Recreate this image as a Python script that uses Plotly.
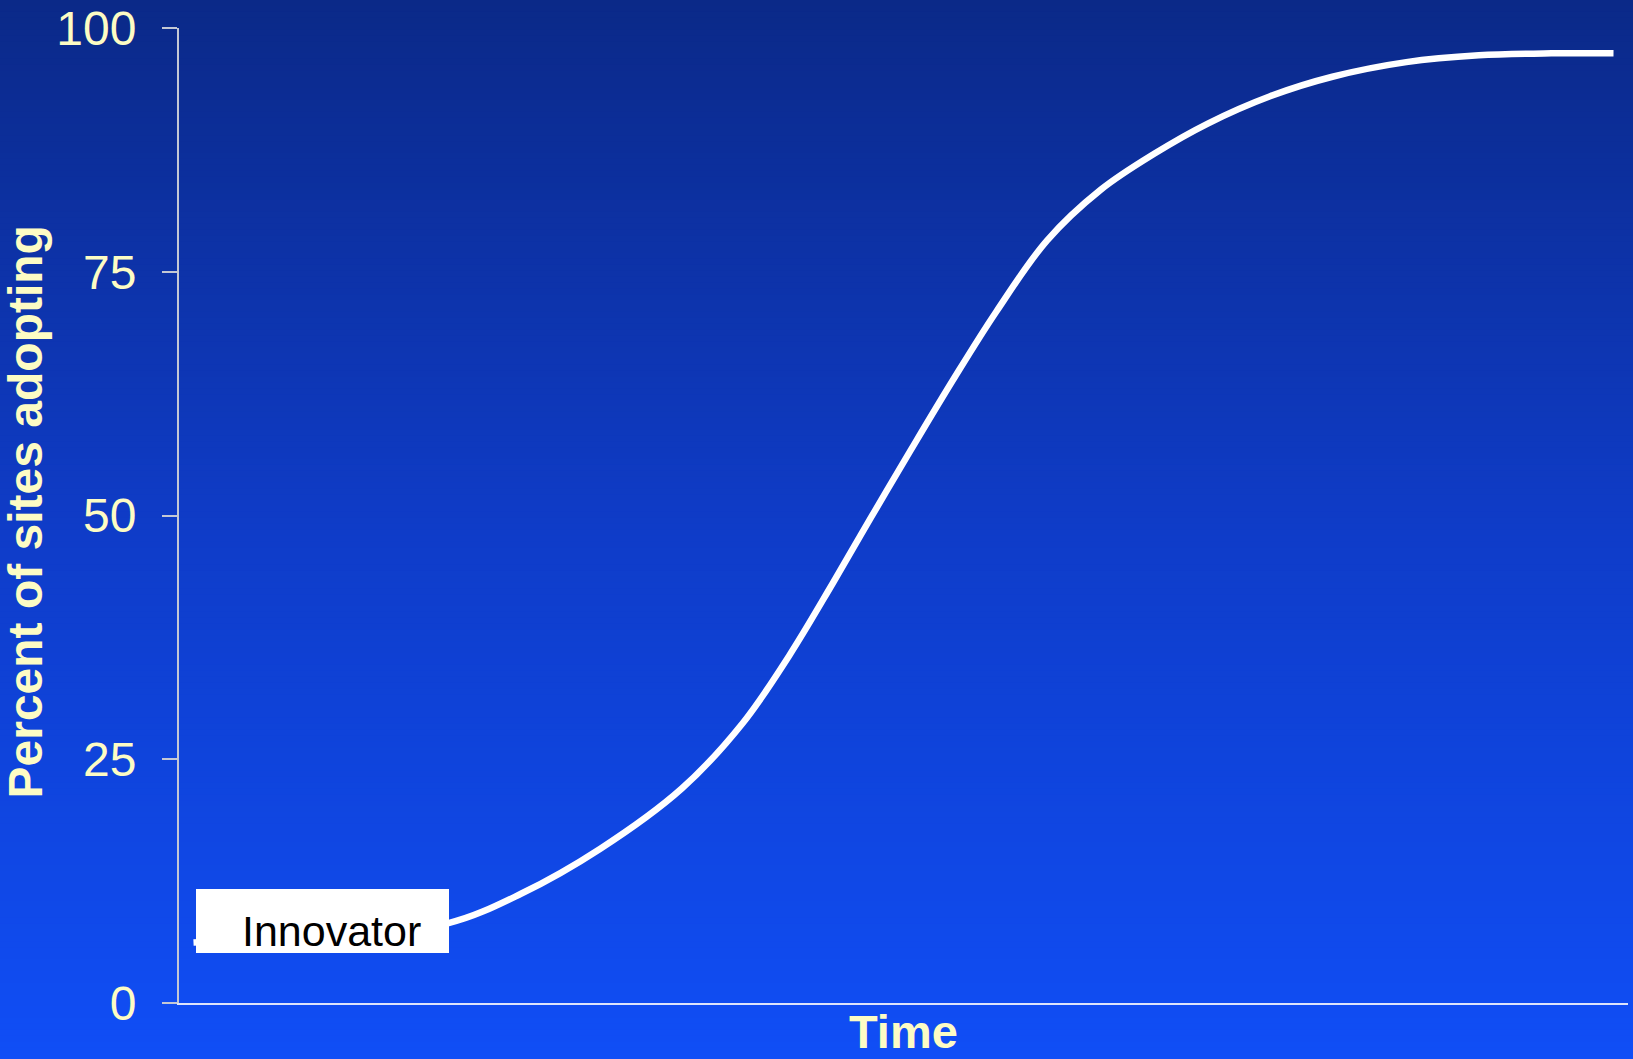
import plotly.graph_objects as go

# ---- data ----
time_vals = [1.0, 6.0, 12.0, 18.6, 23.6, 29.05, 34.7, 38.9, 42.1, 45.1, 47.8, 50.5,
             53.5, 56.4, 59.9, 63.6, 67.3, 71.0, 75.3, 79.6, 84.7, 89.7, 94.7, 99.0]
percent_adopting = [6.2, 6.6, 7.3, 8.2, 11.2, 15.8, 22.0, 28.7, 35.6, 43.0, 49.9, 56.7,
                    64.1, 70.9, 78.2, 83.4, 87.1, 90.2, 93.0, 95.0, 96.5, 97.2, 97.4, 97.4]
y_ticks = [0, 25, 50, 75, 100]
y_tick_labels = ["0", "25", "50", "75", "100"]
y_title = "Percent of sites adopting"
x_title = "Time"
label_text = "Innovator"

W, H = 1633, 1059
ML, MR, MT, MB = 179, 5, 28, 56
PW, PH = W - ML - MR, H - MT - MB

TXT = "#fdfcc4"
FONT = "Liberation Sans, Arial, sans-serif"

def px_to_paper_x(px):
    return (px - ML) / PW

def px_to_paper_y(py):
    return (H - MB - py) / PH

# background gradient bands
stops = [(0.0, (11, 41, 136)), (0.5, (15, 60, 200)), (1.0, (16, 78, 246))]

def col(t):
    for (t0, c0), (t1, c1) in zip(stops[:-1], stops[1:]):
        if t0 <= t <= t1:
            f = (t - t0) / (t1 - t0)
            return "rgb(%d,%d,%d)" % tuple(round(a + (b - a) * f) for a, b in zip(c0, c1))
    return "rgb(%d,%d,%d)" % stops[-1][1]

shapes = []
N = 180
for i in range(N):
    y0px = H * i / N
    y1px = H * (i + 1) / N + 0.8
    shapes.append(dict(type="rect", xref="paper", yref="paper", layer="below",
                       x0=px_to_paper_x(-5), x1=px_to_paper_x(W + 5),
                       y0=px_to_paper_y(y1px), y1=px_to_paper_y(y0px),
                       line=dict(width=0), fillcolor=col((i + 0.5) / N)))

# white label box
shapes.append(dict(type="rect", xref="paper", yref="paper", layer="above",
                   x0=px_to_paper_x(196), x1=px_to_paper_x(449),
                   y0=px_to_paper_y(953), y1=px_to_paper_y(889),
                   line=dict(width=0), fillcolor="white"))

fig = go.Figure()
fig.add_trace(go.Scatter(x=time_vals, y=percent_adopting, mode="lines",
                         line=dict(color="white", width=6.5, shape="spline", smoothing=1.0),
                         hoverinfo="skip", showlegend=False))

fig.update_layout(
    width=W, height=H,
    margin=dict(l=ML, r=MR, t=MT, b=MB, autoexpand=False),
    paper_bgcolor="#0f3fc8", plot_bgcolor="rgba(0,0,0,0)",
    shapes=shapes,
    font=dict(family=FONT),
    xaxis=dict(range=[0, 100], showgrid=False, zeroline=False, showticklabels=False,
               ticks="", showline=True, linecolor="#dde4fb", linewidth=2, automargin=False),
    yaxis=dict(range=[0, 100], showgrid=False, zeroline=False,
               tickvals=y_ticks, ticktext=y_tick_labels,
               ticks="outside", ticklen=15, tickwidth=2, tickcolor="#c4c8d4",
               showline=True, linecolor="#c4c8d4", linewidth=2,
               tickfont=dict(family=FONT, size=48, color=TXT),
               ticklabelstandoff=16, ticklabeloverflow="allow", automargin=False),
    annotations=[
        dict(text=label_text, xref="paper", yref="paper",
             x=px_to_paper_x(331), y=px_to_paper_y(931), xanchor="center", yanchor="middle",
             showarrow=False, font=dict(family=FONT, size=43, color="black")),
        dict(text="<b>%s</b>" % y_title, xref="paper", yref="paper", textangle=-90,
             x=px_to_paper_x(25.5), y=px_to_paper_y(512), xanchor="center", yanchor="middle",
             showarrow=False, font=dict(family=FONT, size=48, color=TXT)),
        dict(text="<b>%s</b>" % x_title, xref="paper", yref="paper",
             x=0.5, y=px_to_paper_y(1031), xanchor="center", yanchor="middle",
             showarrow=False, font=dict(family=FONT, size=47, color=TXT)),
    ],
)

fig.write_html("out.html")
